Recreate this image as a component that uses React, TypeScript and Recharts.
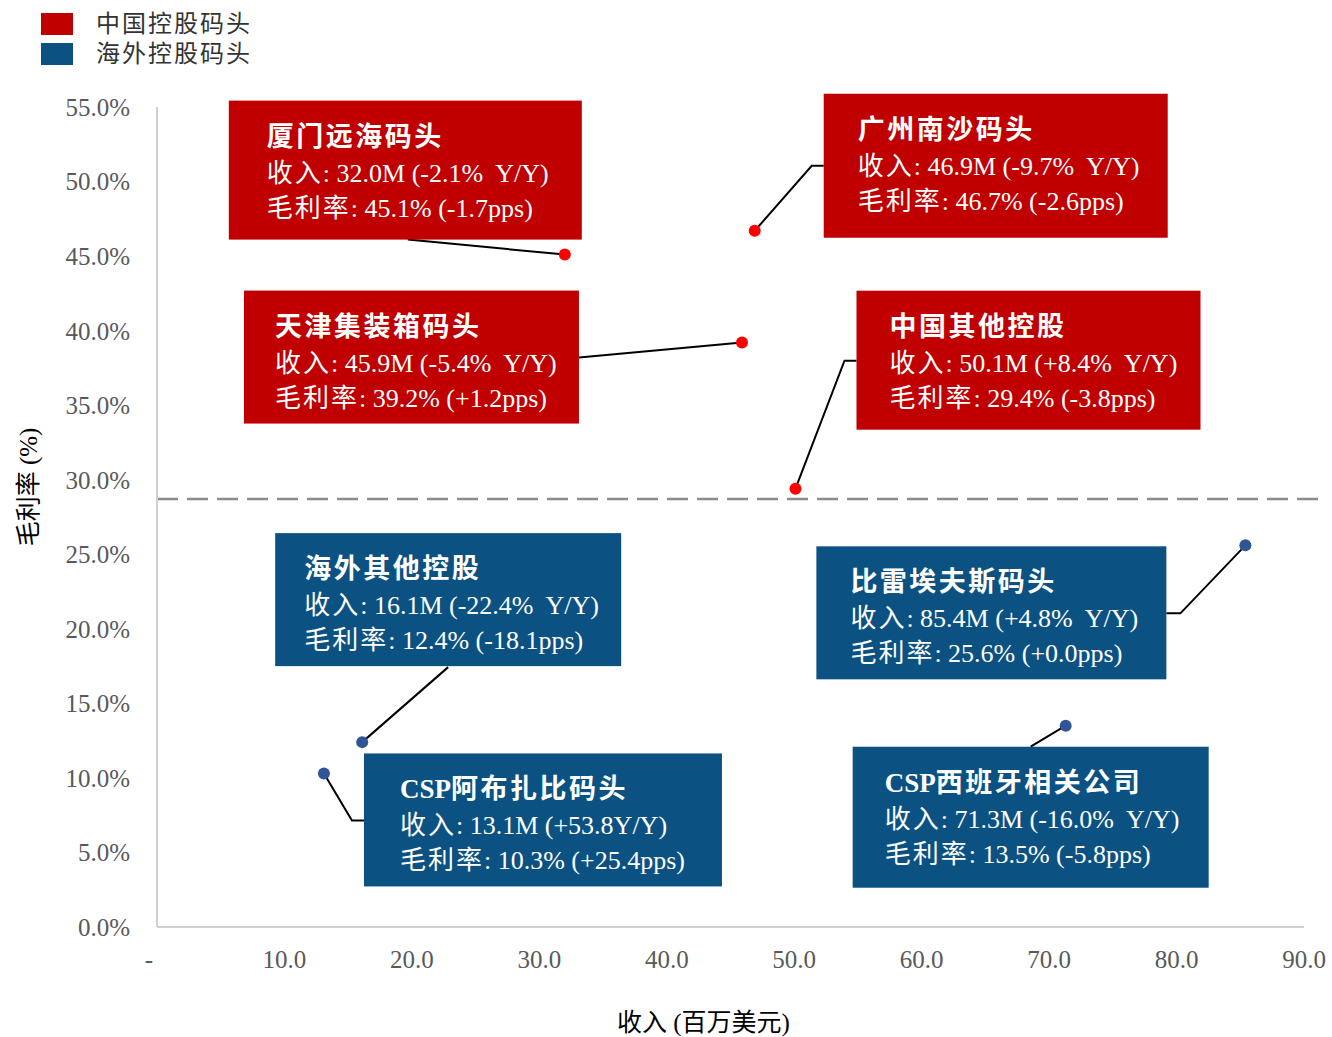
import React from 'react';
import { ScatterChart, Scatter, XAxis, YAxis, ReferenceLine } from 'recharts';

// 码头名称 / 收入(百万美元) / 毛利率(%)
const terminals = ['厦门远海码头', '广州南沙码头', '天津集装箱码头', '中国其他控股', '海外其他控股', 'CSP阿布扎比码头', '比雷埃夫斯码头', 'CSP西班牙相关公司'];
const revenue = [32.0, 46.9, 45.9, 50.1, 16.1, 13.1, 85.4, 71.3];
const grossMargin = [45.1, 46.7, 39.2, 29.4, 12.4, 10.3, 25.6, 13.5];
const revenueNote = ['-2.1%  Y/Y', '-9.7%  Y/Y', '-5.4%  Y/Y', '+8.4%  Y/Y', '-22.4%  Y/Y', '+53.8Y/Y', '+4.8%  Y/Y', '-16.0%  Y/Y'];
const marginNote = ['-1.7pps', '-2.6pps', '+1.2pps', '-3.8pps', '-18.1pps', '+25.4pps', '+0.0pps', '-5.8pps'];
const groupOf = ['china', 'china', 'china', 'china', 'overseas', 'overseas', 'overseas', 'overseas'];

const groups = ['china', 'overseas'];
const groupLabels = ['中国控股码头', '海外控股码头'];

const xTicks = [0, 10, 20, 30, 40, 50, 60, 70, 80, 90];
const yTicks = [0, 5, 10, 15, 20, 25, 30, 35, 40, 45, 50, 55];
const avgMargin = 28.7;

const BOX_COLOR: Record<string, string> = { china: '#C00000', overseas: '#0B5283' };
const DOT_COLOR: Record<string, string> = { china: '#FF0000', overseas: '#2F5597' };

// 标注框相对数据点的位置 (px)
const boxLayout: Record<string, { dx: number; dy: number; w: number; h: number; tx: number; leader: number[][] }> = {
  厦门远海码头: { dx: -336, dy: -154, w: 353, h: 139, tx: 38, leader: [[0, 0], [-157, -15]] },
  广州南沙码头: { dx: 69, dy: -137, w: 344, h: 144, tx: 34, leader: [[0, 0], [57, -65], [69, -65]] },
  天津集装箱码头: { dx: -498, dy: -52, w: 335, h: 133, tx: 31, leader: [[0, 0], [-163, 15]] },
  中国其他控股: { dx: 61, dy: -198, w: 344, h: 139, tx: 33, leader: [[0, 0], [49, -128], [61, -128]] },
  海外其他控股: { dx: -87, dy: -209, w: 346, h: 133, tx: 29, leader: [[0, 0], [86, -75]] },
  CSP阿布扎比码头: { dx: 40, dy: -20, w: 358, h: 133, tx: 36, leader: [[0, 0], [28, 47], [40, 47]] },
  比雷埃夫斯码头: { dx: -429, dy: 1, w: 350, h: 133, tx: 34, leader: [[0, 0], [-65, 68], [-79, 68]] },
  CSP西班牙相关公司: { dx: -213, dy: 21, w: 356, h: 141, tx: 32, leader: [[0, 0], [-35, 21]] },
};

const SERIF = '"Liberation Serif", "Times New Roman", "Noto Sans CJK SC", serif';

const rows = terminals.map((name, i) => ({
  name,
  revenue: revenue[i],
  margin: grossMargin[i],
  revNote: revenueNote[i],
  marNote: marginNote[i],
  group: groupOf[i],
}));

function Title({ name }: { name: string }) {
  const latin = name.match(/^[A-Za-z]+/)?.[0] ?? '';
  const rest = name.slice(latin.length);
  return (
    <>
      {latin && <tspan letterSpacing={0}>{latin}</tspan>}
      <tspan letterSpacing={2.5}>{rest}</tspan>
    </>
  );
}

function AnnotatedDot(props: any) {
  const { cx, cy, payload } = props;
  const lay = boxLayout[payload.name];
  const bx = cx + lay.dx;
  const by = cy + lay.dy;
  const tx = bx + lay.tx;
  const pts = lay.leader.map((p) => `${cx + p[0]},${cy + p[1]}`).join(' ');
  return (
    <g>
      <polyline points={pts} fill="none" stroke="#000" strokeWidth={2} />
      <rect x={bx} y={by} width={lay.w} height={lay.h} fill={BOX_COLOR[payload.group]} />
      <text x={tx} y={by + 45} fill="#fff" fontSize={27} fontWeight={700} fontFamily={SERIF}>
        <Title name={payload.name} />
      </text>
      <text x={tx} y={by + 81} fill="#fff" fontSize={26} fontFamily={SERIF} style={{ whiteSpace: 'pre' }}>
        <tspan letterSpacing={2}>收入</tspan>
        {`: ${payload.revenue.toFixed(1)}M (${payload.revNote})`}
      </text>
      <text x={tx} y={by + 116} fill="#fff" fontSize={26} fontFamily={SERIF} style={{ whiteSpace: 'pre' }}>
        <tspan letterSpacing={2}>毛利率</tspan>
        {`: ${payload.margin.toFixed(1)}% (${payload.marNote})`}
      </text>
      <circle cx={cx} cy={cy} r={6} fill={DOT_COLOR[payload.group]} />
    </g>
  );
}

function XTick(props: any) {
  const { x, y, payload } = props;
  const v = payload.value as number;
  return (
    <text x={v === 0 ? x - 8 : x} y={y} dy="0.71em" textAnchor="middle" fill="#595959" fontSize={25} fontFamily={SERIF}>
      {v === 0 ? '-' : v.toFixed(1)}
    </text>
  );
}

export default function App() {
  return (
    <div style={{ position: 'absolute', left: 0, top: 0, width: 1332, height: 1037, background: '#fff' }}>
      <div style={{ position: 'absolute', left: 41, top: 9, zIndex: 2 }}>
        {groups.map((g, i) => (
          <div key={g} style={{ display: 'flex', alignItems: 'center', height: 30 }}>
            <span style={{ width: 32, height: 22, background: BOX_COLOR[g], display: 'inline-block' }} />
            <span style={{ marginLeft: 23, fontSize: 24, letterSpacing: 2, color: '#333', fontFamily: SERIF, lineHeight: '30px' }}>
              {groupLabels[i]}
            </span>
          </div>
        ))}
      </div>
      <ScatterChart width={1332} height={1037} margin={{ top: 107, right: 28, left: 0, bottom: 0 }}>
        <XAxis
          type="number"
          dataKey="revenue"
          domain={[0, 90]}
          ticks={xTicks}
          height={110}
          tickLine={false}
          tickSize={17}
          tickMargin={6}
          stroke="#D0D0D0"
          strokeWidth={2}
          tick={XTick}
          label={{
            content: (p: any) => (
              <text x={p.viewBox.x + p.viewBox.width / 2 - 27} y={p.viewBox.y + 104} textAnchor="middle" fontSize={25} fill="#000" fontFamily={SERIF}>
                收入 (百万美元)
              </text>
            ),
          }}
        />
        <YAxis
          type="number"
          dataKey="margin"
          domain={[0, 55]}
          ticks={yTicks}
          width={157}
          tickLine={false}
          tickSize={20}
          tickMargin={7}
          stroke="#D0D0D0"
          strokeWidth={2}
          tick={{ fill: '#595959', fontSize: 25, fontFamily: SERIF }}
          tickFormatter={(v: number) => `${v.toFixed(1)}%`}
          label={{
            content: (p: any) => {
              const x = p.viewBox.x + 28;
              const y = p.viewBox.y + p.viewBox.height / 2 - 30;
              return (
                <text x={x} y={y} transform={`rotate(-90 ${x} ${y})`} textAnchor="middle" dominantBaseline="central" fontSize={25} fill="#000" fontFamily={SERIF}>
                  毛利率 (%)
                </text>
              );
            },
          }}
        />
        <ReferenceLine
          segment={[{ x: 0, y: avgMargin }, { x: 91.6, y: avgMargin }]}
          ifOverflow="visible"
          stroke="#8C8C8C"
          strokeWidth={2.5}
          strokeDasharray="21 9"
        />
        {groups.map((g) => (
          <Scatter
            key={g}
            name={g}
            data={rows.filter((r) => r.group === g)}
            shape={AnnotatedDot}
            isAnimationActive={false}
          />
        ))}
      </ScatterChart>
    </div>
  );
}
